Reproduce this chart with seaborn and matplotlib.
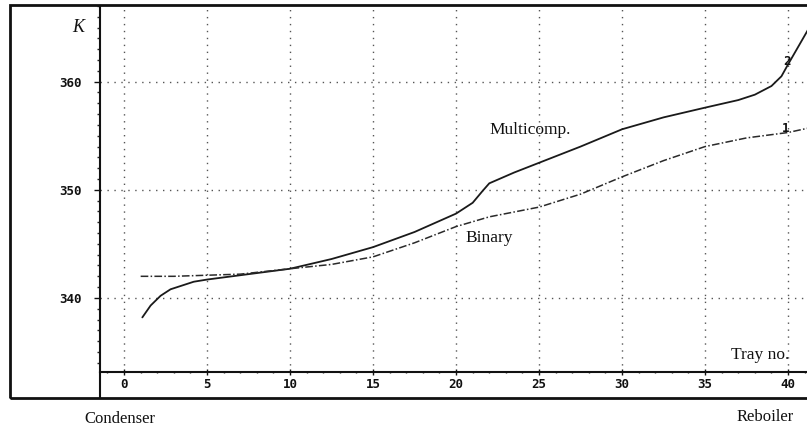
import matplotlib
matplotlib.use("Agg")
import matplotlib.pyplot as plt
import seaborn as sns
import pandas as pd
from matplotlib.patches import Rectangle
from matplotlib.lines import Line2D
from matplotlib.ticker import MultipleLocator

# ---- data ----
tray_multi = [1.1, 1.6, 2.2, 2.8, 3.4, 4.2, 5, 7, 10, 12.5, 15, 17.5, 20, 21,
              21.6, 22, 23.5, 25, 27.5, 30, 32.5, 35, 37, 38, 39, 39.6, 40, 41.2]
temp_multi = [338.2, 339.3, 340.2, 340.8, 341.1, 341.5, 341.7, 342.1, 342.7,
              343.6, 344.7, 346.1, 347.8, 348.8, 349.9, 350.6, 351.6, 352.5,
              354.0, 355.6, 356.7, 357.6, 358.3, 358.8, 359.6, 360.5, 361.6, 364.8]

tray_bin = [1, 3, 5, 7, 10, 12.5, 15, 17.5, 20, 22, 25, 27.5, 30, 32.5, 35, 37.5,
            40, 41.2]
temp_bin = [342.0, 342.0, 342.1, 342.2, 342.7, 343.1, 343.8, 345.1, 346.6, 347.5,
            348.4, 349.6, 351.2, 352.7, 354.0, 354.8, 355.3, 355.7]

x_ticks = [0, 5, 10, 15, 20, 25, 30, 35, 40]
x_ticklabels = ["0", "5", "10", "15", "20", "25", "30", "35", "40"]
y_ticks = [340, 350, 360]
y_ticklabels = ["340", "350", "360"]

sns.set_style("white")
plt.rcParams["font.family"] = ["DejaVu Sans"]

W, H = 807, 434
fig = plt.figure(figsize=(W / 100, H / 100), dpi=100)

left_px, right_px, top_px, bottom_px = 100, 807, 6, 372
ax = fig.add_axes([left_px / W, (H - bottom_px) / H,
                   (right_px - left_px) / W, (bottom_px - top_px) / H])

df_m = pd.DataFrame({"tray": tray_multi, "T": temp_multi})
df_b = pd.DataFrame({"tray": tray_bin, "T": temp_bin})

sns.lineplot(data=df_m, x="tray", y="T", ax=ax, color="#1a1a1a", lw=1.3,
             sort=False, estimator=None)
sns.lineplot(data=df_b, x="tray", y="T", ax=ax, color="#2a2a2a", lw=1.1,
             sort=False, estimator=None, dashes=False)
ax.lines[-1].set_dashes([5, 1.5, 1, 1.5])

ax.set_xlim(-1.45, 41.14)
ax.set_ylim(333.15, 367.0)

ax.set_xticks(x_ticks)
ax.set_xticklabels(x_ticklabels)
ax.set_yticks(y_ticks)
ax.set_yticklabels(y_ticklabels)
ax.xaxis.set_minor_locator(MultipleLocator(1))
ax.yaxis.set_minor_locator(MultipleLocator(1))

for lab in ax.get_xticklabels() + ax.get_yticklabels():
    lab.set_fontfamily("DejaVu Sans Mono")
    lab.set_fontweight("bold")
    lab.set_fontsize(9)

ax.tick_params(axis="x", which="major", direction="inout", length=5, width=1,
               pad=1.5, colors="#111111", bottom=True)
ax.tick_params(axis="x", which="minor", direction="inout", length=2, width=1,
               bottom=True)
ax.tick_params(axis="y", which="major", direction="out", length=4, width=1,
               pad=9, colors="#111111", left=True)
ax.tick_params(axis="y", which="minor", direction="out", length=2, width=1,
               left=True)

ax.grid(True, which="major", color="#555555", linestyle=(0, (1, 4)), lw=1.0)

for s in ["top", "right"]:
    ax.spines[s].set_visible(False)
for s in ["left", "bottom"]:
    ax.spines[s].set_color("#111111")
    ax.spines[s].set_linewidth(1.5)

ax.set_xlabel("")
ax.set_ylabel("")

serif = ["Liberation Serif", "DejaVu Serif"]
ax.text(22.0, 355.5, "Multicomp.", family=serif, fontsize=12.5,
        ha="left", va="center", color="#111111")
ax.text(20.55, 345.5, "Binary", family=serif, fontsize=12.5,
        ha="left", va="center", color="#111111")
ax.text(39.95, 361.9, "2", family="DejaVu Sans Mono", weight="bold",
        fontsize=9, ha="center", va="center", color="#111111")
ax.text(39.85, 355.7, "1", family="DejaVu Sans Mono", weight="bold",
        fontsize=9, ha="center", va="center", color="#111111")
ax.text(40.1, 334.7, "Tray no.", family=serif, fontsize=12.5,
        ha="right", va="center", color="#111111")

# K label
fig.text(78 / W, (H - 28) / H, "K", family=serif, style="italic",
         fontsize=13, ha="center", va="center", color="#111111")

# outer frame
fig.add_artist(Rectangle((10 / W, (H - 398) / H), (812 - 10) / W,
                         (398 - 5) / H, transform=fig.transFigure,
                         fill=False, lw=2.0, edgecolor="#111111"))
# left spine extension below x axis
fig.add_artist(Line2D([left_px / W, left_px / W],
                      [(H - bottom_px) / H, (H - 398) / H],
                      transform=fig.transFigure, color="#111111", lw=1.5))

fig.text(120 / W, (H - 419) / H, "Condenser", family=serif, fontsize=12,
         ha="center", va="center", color="#111111")
fig.text(765 / W, (H - 417) / H, "Reboiler", family=serif, fontsize=12,
         ha="center", va="center", color="#111111")

fig.savefig("out.png", dpi=100, facecolor="white")
